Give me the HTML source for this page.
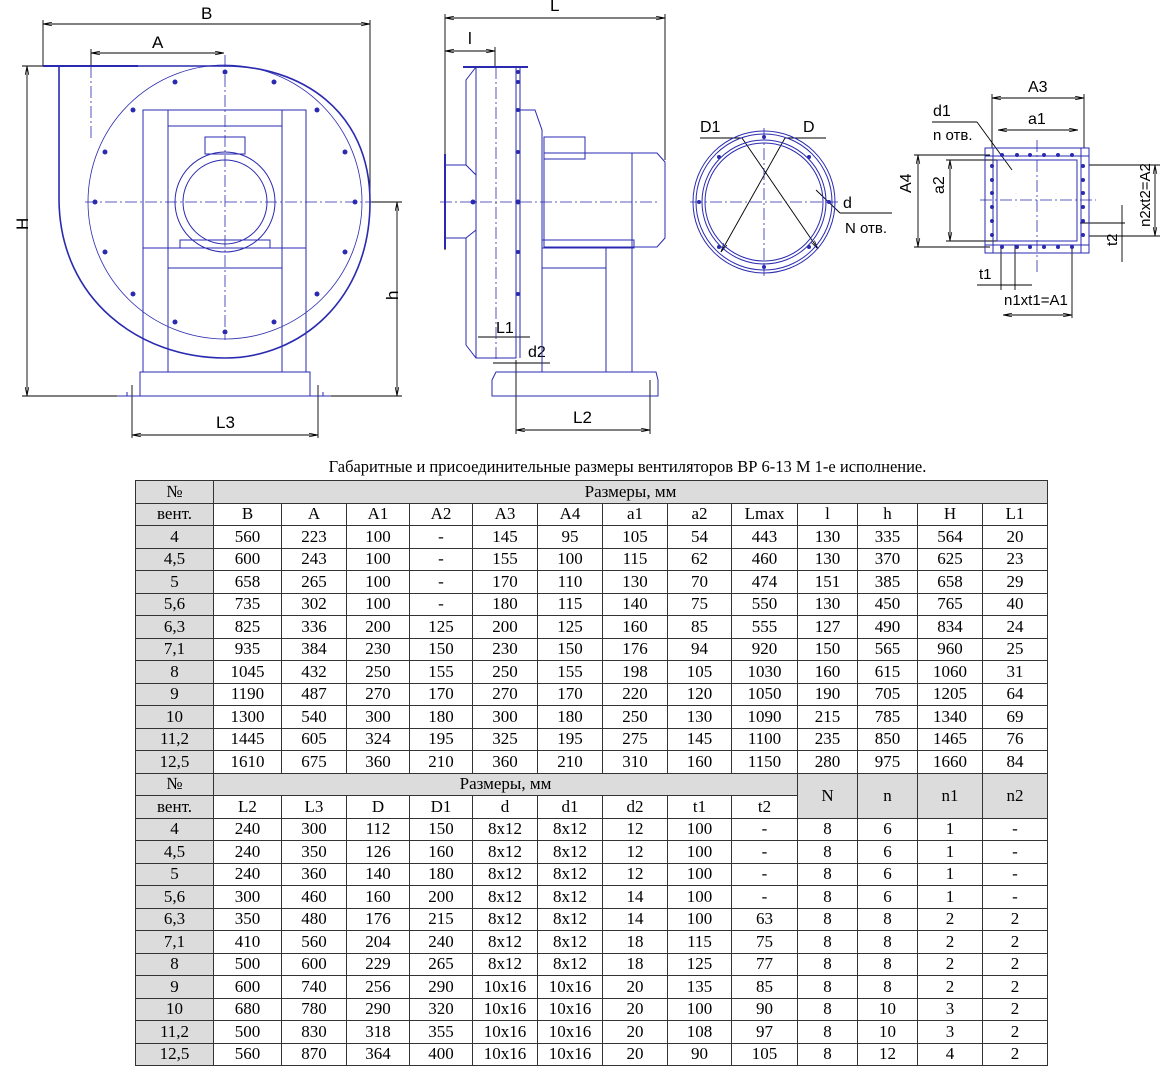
<!DOCTYPE html>
<html><head><meta charset="utf-8">
<style>
body{margin:0;background:#fff;width:1171px;height:1080px;overflow:hidden;position:relative;font-family:"Liberation Sans",sans-serif}
svg{position:absolute;left:0;top:0}
.title{position:absolute;left:135px;width:985px;top:457px;text-align:center;font:16.5px "Liberation Serif",serif;color:#000}
table{position:absolute;left:135px;border-collapse:collapse;table-layout:fixed;font:17px "Liberation Serif",serif;color:#000}
td{border:1px solid #333;text-align:center;padding:0;height:21.5px;line-height:18px;overflow:hidden;white-space:nowrap}
td.g{background:#dcdcdc}
tr.h td{background:#dcdcdc}
</style></head><body>
<svg width="1171" height="450" viewBox="0 0 1171 450" font-family="Liberation Sans, sans-serif">
<defs><marker id="a" markerWidth="10" markerHeight="6" refX="10" refY="3" orient="auto-start-reverse"><path d="M0,1 L10,3 L0,5" fill="none" stroke="#000" stroke-width="0.8"/></marker></defs>
<g stroke="#000" stroke-width="0.9" fill="none">
<line x1="43" y1="24" x2="370" y2="24" marker-start="url(#a)" marker-end="url(#a)"/>
<line x1="43" y1="20" x2="43" y2="66"/><line x1="370" y1="20" x2="370" y2="202"/>
<line x1="91" y1="53" x2="224" y2="53" marker-start="url(#a)" marker-end="url(#a)"/>
<line x1="91" y1="49" x2="91" y2="66"/>
<line x1="27" y1="66" x2="27" y2="396" marker-start="url(#a)" marker-end="url(#a)"/>
<line x1="22" y1="66" x2="60" y2="66"/><line x1="22" y1="396" x2="120" y2="396"/>
<line x1="397" y1="202" x2="397" y2="396" marker-start="url(#a)" marker-end="url(#a)"/>
<line x1="370" y1="202" x2="402" y2="202"/><line x1="330" y1="396" x2="402" y2="396"/>
<line x1="132" y1="435" x2="318" y2="435" marker-start="url(#a)" marker-end="url(#a)"/>
<line x1="132" y1="385" x2="132" y2="438"/><line x1="318" y1="385" x2="318" y2="438"/>
<line x1="445" y1="18" x2="665" y2="18" marker-start="url(#a)" marker-end="url(#a)"/>
<line x1="445" y1="14" x2="445" y2="250"/><line x1="665" y1="14" x2="665" y2="160"/>
<line x1="445" y1="51" x2="495" y2="51" marker-start="url(#a)" marker-end="url(#a)"/>
<line x1="495" y1="47" x2="495" y2="67"/>
<line x1="516" y1="430" x2="650" y2="430" marker-start="url(#a)" marker-end="url(#a)"/>
<line x1="516" y1="360" x2="516" y2="434"/><line x1="650" y1="380" x2="650" y2="434"/>
<line x1="478" y1="337" x2="530" y2="337"/><line x1="493" y1="363" x2="550" y2="363"/>
<line x1="700" y1="138" x2="742" y2="138"/><line x1="742" y1="138" x2="818" y2="249" marker-end="url(#a)"/>
<line x1="826" y1="138" x2="785" y2="138"/><line x1="785" y1="138" x2="721" y2="252" marker-end="url(#a)"/>
<line x1="816" y1="190" x2="840" y2="213"/><line x1="840" y1="213" x2="892" y2="213"/>
<line x1="932" y1="122" x2="977" y2="122"/><line x1="977" y1="122" x2="1012" y2="170"/>
<line x1="992" y1="98" x2="1084" y2="98" marker-start="url(#a)" marker-end="url(#a)"/>
<line x1="992" y1="94" x2="992" y2="148"/><line x1="1084" y1="94" x2="1084" y2="148"/>
<line x1="998" y1="130" x2="1078" y2="130" marker-start="url(#a)" marker-end="url(#a)"/>
<line x1="918" y1="155" x2="918" y2="247" marker-start="url(#a)" marker-end="url(#a)"/>
<line x1="914" y1="155" x2="990" y2="155"/><line x1="914" y1="247" x2="990" y2="247"/>
<line x1="950" y1="160" x2="950" y2="241" marker-start="url(#a)" marker-end="url(#a)"/>
<line x1="946" y1="160" x2="997" y2="160"/><line x1="946" y1="241" x2="997" y2="241"/>
<line x1="1155" y1="165" x2="1155" y2="236" marker-start="url(#a)" marker-end="url(#a)"/>
<line x1="1089" y1="165" x2="1160" y2="165"/><line x1="1089" y1="236" x2="1160" y2="236"/>
<line x1="1122" y1="205" x2="1122" y2="262"/><line x1="1080" y1="223" x2="1125" y2="223"/>
<line x1="977" y1="285" x2="1032" y2="285"/><line x1="1001" y1="245" x2="1001" y2="290"/><line x1="1015" y1="245" x2="1015" y2="290"/>
<line x1="1003" y1="315" x2="1072" y2="315" marker-start="url(#a)" marker-end="url(#a)"/>
<line x1="1072" y1="245" x2="1072" y2="318"/>
</g>
<g fill="#000" font-size="17">
<text x="201" y="19">B</text><text x="152" y="48">A</text>
<text x="20" y="238" transform="rotate(-90 20 230)">H</text>
<text x="392" y="306" transform="rotate(-90 392 300)">h</text>
<text x="216" y="428">L3</text>
<text x="550" y="11">L</text><text x="468" y="44">l</text>
<text x="496" y="333" font-size="16">L1</text><text x="528" y="357" font-size="16">d2</text>
<text x="573" y="423">L2</text>
<text x="700" y="132" font-size="16">D1</text><text x="803" y="132" font-size="16">D</text>
<text x="843" y="208" font-size="16">d</text><text x="845" y="233" font-size="15">N отв.</text>
<text x="1028" y="92" font-size="16">A3</text><text x="1028" y="124" font-size="16">a1</text>
<text x="933" y="116" font-size="16">d1</text><text x="933" y="140" font-size="15">n отв.</text>
<text x="912" y="206" font-size="16" transform="rotate(-90 905 200)">A4</text>
<text x="944" y="206" font-size="16" transform="rotate(-90 938 200)">a2</text>
<text x="1150" y="205" font-size="15" transform="rotate(-90 1145 200)" text-anchor="middle">n2xt2=A2</text>
<text x="1118" y="257" font-size="15" transform="rotate(-90 1112 252)">t2</text>
<text x="979" y="279" font-size="15">t1</text><text x="1004" y="305" font-size="15">n1xt1=A1</text>
</g>
<g stroke="#2a2ab0" stroke-width="1" fill="none">
<path d="M43,66 H138" stroke-width="2"/>
<path d="M59,66 V200 C60,300 140,358 225,358 C300,358 370,300 370,202 C370,110 300,66 225,66 H138" stroke-width="1.6"/>
<circle cx="225" cy="202" r="137" stroke-width="0.8"/>
<rect x="143" y="110" width="163" height="138"/>
<line x1="168" y1="110" x2="168" y2="372"/><line x1="282" y1="110" x2="282" y2="372"/>
<line x1="168" y1="126" x2="282" y2="126"/><line x1="168" y1="268" x2="282" y2="268"/>
<line x1="143" y1="248" x2="143" y2="372"/><line x1="306" y1="248" x2="306" y2="372"/>
<circle cx="225" cy="202" r="50"/><circle cx="225" cy="202" r="42"/>
<rect x="205" y="137" width="40" height="17"/>
<rect x="180" y="240" width="90" height="8"/>
<rect x="140" y="372" width="170" height="24"/>
<path d="M117,396 H331 M127,392 V396 M323,392 V396"/>
<path d="M463,67 H528" stroke-width="2"/>
<path d="M445,154 V249" stroke-width="2"/>
<path d="M445,165 H466 M445,238 H466"/>
<path d="M476,67 L466,80 V165 L476,175 V230 L466,238 V345 L476,358 H516 V67"/>
<line x1="476" y1="67" x2="476" y2="358"/>
<path d="M516,67 V358 M520,67 V358"/>
<path d="M520,110 H535 L542,130 V372"/>
<rect x="544" y="137" width="41" height="22"/>
<rect x="544" y="153" width="88" height="94"/>
<path d="M632,153 H657 L665,162 V238 L657,247 H632"/>
<rect x="542" y="240" width="92" height="8"/>
<path d="M542,268 H606 M606,248 V372 M632,248 V372"/>
<path d="M496,372 H656 L658,380 V396 H492 V380 Z"/>
<circle cx="764" cy="202" r="71"/><circle cx="764" cy="202" r="68"/>
<circle cx="764" cy="202" r="62"/><circle cx="764" cy="202" r="59"/>
<rect x="985" y="148" width="104" height="105"/>
<rect x="997" y="160" width="80" height="81"/>
<line x1="985" y1="156" x2="1089" y2="156"/><line x1="985" y1="245" x2="1089" y2="245"/>
<line x1="993" y1="148" x2="993" y2="253"/><line x1="1081" y1="148" x2="1081" y2="253"/>
</g>
<g stroke="#2a2ab0" stroke-width="0.8" stroke-dasharray="12,3,2,3" fill="none">
<line x1="85" y1="202" x2="372" y2="202"/><line x1="225" y1="55" x2="225" y2="340"/>
<line x1="91" y1="66" x2="91" y2="140"/>
<line x1="440" y1="202" x2="660" y2="202"/><line x1="496" y1="67" x2="496" y2="360"/>
<line x1="690" y1="202" x2="838" y2="202"/><line x1="764" y1="128" x2="764" y2="276"/>
<line x1="980" y1="200" x2="1096" y2="200"/><line x1="1037" y1="140" x2="1037" y2="272"/>
</g>
<g fill="#2a2ab0">
<circle cx="225" cy="72" r="2.5"/><circle cx="175" cy="82" r="2.5"/><circle cx="274" cy="82" r="2.5"/>
<circle cx="133" cy="110" r="2.5"/><circle cx="317" cy="110" r="2.5"/><circle cx="105" cy="152" r="2.5"/><circle cx="345" cy="152" r="2.5"/>
<circle cx="95" cy="202" r="2.5"/><circle cx="355" cy="202" r="2.5"/><circle cx="105" cy="252" r="2.5"/><circle cx="345" cy="252" r="2.5"/>
<circle cx="133" cy="294" r="2.5"/><circle cx="317" cy="294" r="2.5"/><circle cx="175" cy="322" r="2.5"/><circle cx="274" cy="322" r="2.5"/><circle cx="225" cy="332" r="2.5"/>
<circle cx="518" cy="72" r="2"/><circle cx="518" cy="82" r="2"/><circle cx="518" cy="110" r="2"/><circle cx="518" cy="152" r="2"/><circle cx="518" cy="202" r="2.5"/><circle cx="518" cy="252" r="2"/><circle cx="518" cy="294" r="2"/><circle cx="473" cy="202" r="2.5"/>
<circle cx="764" cy="137" r="2"/><circle cx="764" cy="267" r="2"/><circle cx="699" cy="202" r="2"/><circle cx="829" cy="202" r="2"/>
<circle cx="719" cy="157" r="2"/><circle cx="809" cy="157" r="2"/><circle cx="719" cy="247" r="2"/><circle cx="809" cy="247" r="2"/>
<circle cx="1002" cy="155" r="2"/><circle cx="1017" cy="155" r="2"/><circle cx="1030" cy="155" r="2"/><circle cx="1044" cy="155" r="2"/><circle cx="1058" cy="155" r="2"/><circle cx="1072" cy="155" r="2"/>
<circle cx="1002" cy="247" r="2"/><circle cx="1017" cy="247" r="2"/><circle cx="1030" cy="247" r="2"/><circle cx="1044" cy="247" r="2"/><circle cx="1058" cy="247" r="2"/><circle cx="1072" cy="247" r="2"/>
<circle cx="992" cy="166" r="2"/><circle cx="992" cy="180" r="2"/><circle cx="992" cy="193" r="2"/><circle cx="992" cy="207" r="2"/><circle cx="992" cy="221" r="2"/><circle cx="992" cy="235" r="2"/>
<circle cx="1083" cy="166" r="2"/><circle cx="1083" cy="180" r="2"/><circle cx="1083" cy="193" r="2"/><circle cx="1083" cy="207" r="2"/><circle cx="1083" cy="221" r="2"/><circle cx="1083" cy="235" r="2"/>
</g>
</svg>
<div class="title">Габаритные и присоединительные размеры вентиляторов ВР 6-13 М 1-е исполнение.</div>
<table style="top:480px">
<colgroup><col style="width:78px"><col style="width:68px"><col style="width:65px"><col style="width:63px"><col style="width:63px"><col style="width:65px"><col style="width:65px"><col style="width:65px"><col style="width:64px"><col style="width:66px"><col style="width:60px"><col style="width:60px"><col style="width:65px"><col style="width:65px"></colgroup>
<tr class="h"><td>№</td><td colspan="13">Размеры, мм</td></tr>
<tr><td class="g">вент.</td><td>B</td><td>A</td><td>A1</td><td>A2</td><td>A3</td><td>A4</td><td>a1</td><td>a2</td><td>Lmax</td><td>l</td><td>h</td><td>H</td><td>L1</td></tr>
<tr><td class="g">4</td><td>560</td><td>223</td><td>100</td><td>-</td><td>145</td><td>95</td><td>105</td><td>54</td><td>443</td><td>130</td><td>335</td><td>564</td><td>20</td></tr>
<tr><td class="g">4,5</td><td>600</td><td>243</td><td>100</td><td>-</td><td>155</td><td>100</td><td>115</td><td>62</td><td>460</td><td>130</td><td>370</td><td>625</td><td>23</td></tr>
<tr><td class="g">5</td><td>658</td><td>265</td><td>100</td><td>-</td><td>170</td><td>110</td><td>130</td><td>70</td><td>474</td><td>151</td><td>385</td><td>658</td><td>29</td></tr>
<tr><td class="g">5,6</td><td>735</td><td>302</td><td>100</td><td>-</td><td>180</td><td>115</td><td>140</td><td>75</td><td>550</td><td>130</td><td>450</td><td>765</td><td>40</td></tr>
<tr><td class="g">6,3</td><td>825</td><td>336</td><td>200</td><td>125</td><td>200</td><td>125</td><td>160</td><td>85</td><td>555</td><td>127</td><td>490</td><td>834</td><td>24</td></tr>
<tr><td class="g">7,1</td><td>935</td><td>384</td><td>230</td><td>150</td><td>230</td><td>150</td><td>176</td><td>94</td><td>920</td><td>150</td><td>565</td><td>960</td><td>25</td></tr>
<tr><td class="g">8</td><td>1045</td><td>432</td><td>250</td><td>155</td><td>250</td><td>155</td><td>198</td><td>105</td><td>1030</td><td>160</td><td>615</td><td>1060</td><td>31</td></tr>
<tr><td class="g">9</td><td>1190</td><td>487</td><td>270</td><td>170</td><td>270</td><td>170</td><td>220</td><td>120</td><td>1050</td><td>190</td><td>705</td><td>1205</td><td>64</td></tr>
<tr><td class="g">10</td><td>1300</td><td>540</td><td>300</td><td>180</td><td>300</td><td>180</td><td>250</td><td>130</td><td>1090</td><td>215</td><td>785</td><td>1340</td><td>69</td></tr>
<tr><td class="g">11,2</td><td>1445</td><td>605</td><td>324</td><td>195</td><td>325</td><td>195</td><td>275</td><td>145</td><td>1100</td><td>235</td><td>850</td><td>1465</td><td>76</td></tr>
<tr><td class="g">12,5</td><td>1610</td><td>675</td><td>360</td><td>210</td><td>360</td><td>210</td><td>310</td><td>160</td><td>1150</td><td>280</td><td>975</td><td>1660</td><td>84</td></tr>
<tr class="h"><td>№</td><td colspan="9">Размеры, мм</td><td rowspan="2">N</td><td rowspan="2">n</td><td rowspan="2">n1</td><td rowspan="2">n2</td></tr>
<tr><td class="g">вент.</td><td>L2</td><td>L3</td><td>D</td><td>D1</td><td>d</td><td>d1</td><td>d2</td><td>t1</td><td>t2</td></tr>
<tr><td class="g">4</td><td>240</td><td>300</td><td>112</td><td>150</td><td>8x12</td><td>8x12</td><td>12</td><td>100</td><td>-</td><td>8</td><td>6</td><td>1</td><td>-</td></tr>
<tr><td class="g">4,5</td><td>240</td><td>350</td><td>126</td><td>160</td><td>8x12</td><td>8x12</td><td>12</td><td>100</td><td>-</td><td>8</td><td>6</td><td>1</td><td>-</td></tr>
<tr><td class="g">5</td><td>240</td><td>360</td><td>140</td><td>180</td><td>8x12</td><td>8x12</td><td>12</td><td>100</td><td>-</td><td>8</td><td>6</td><td>1</td><td>-</td></tr>
<tr><td class="g">5,6</td><td>300</td><td>460</td><td>160</td><td>200</td><td>8x12</td><td>8x12</td><td>14</td><td>100</td><td>-</td><td>8</td><td>6</td><td>1</td><td>-</td></tr>
<tr><td class="g">6,3</td><td>350</td><td>480</td><td>176</td><td>215</td><td>8x12</td><td>8x12</td><td>14</td><td>100</td><td>63</td><td>8</td><td>8</td><td>2</td><td>2</td></tr>
<tr><td class="g">7,1</td><td>410</td><td>560</td><td>204</td><td>240</td><td>8x12</td><td>8x12</td><td>18</td><td>115</td><td>75</td><td>8</td><td>8</td><td>2</td><td>2</td></tr>
<tr><td class="g">8</td><td>500</td><td>600</td><td>229</td><td>265</td><td>8x12</td><td>8x12</td><td>18</td><td>125</td><td>77</td><td>8</td><td>8</td><td>2</td><td>2</td></tr>
<tr><td class="g">9</td><td>600</td><td>740</td><td>256</td><td>290</td><td>10x16</td><td>10x16</td><td>20</td><td>135</td><td>85</td><td>8</td><td>8</td><td>2</td><td>2</td></tr>
<tr><td class="g">10</td><td>680</td><td>780</td><td>290</td><td>320</td><td>10x16</td><td>10x16</td><td>20</td><td>100</td><td>90</td><td>8</td><td>10</td><td>3</td><td>2</td></tr>
<tr><td class="g">11,2</td><td>500</td><td>830</td><td>318</td><td>355</td><td>10x16</td><td>10x16</td><td>20</td><td>108</td><td>97</td><td>8</td><td>10</td><td>3</td><td>2</td></tr>
<tr><td class="g">12,5</td><td>560</td><td>870</td><td>364</td><td>400</td><td>10x16</td><td>10x16</td><td>20</td><td>90</td><td>105</td><td>8</td><td>12</td><td>4</td><td>2</td></tr>
</table>
</body></html>
